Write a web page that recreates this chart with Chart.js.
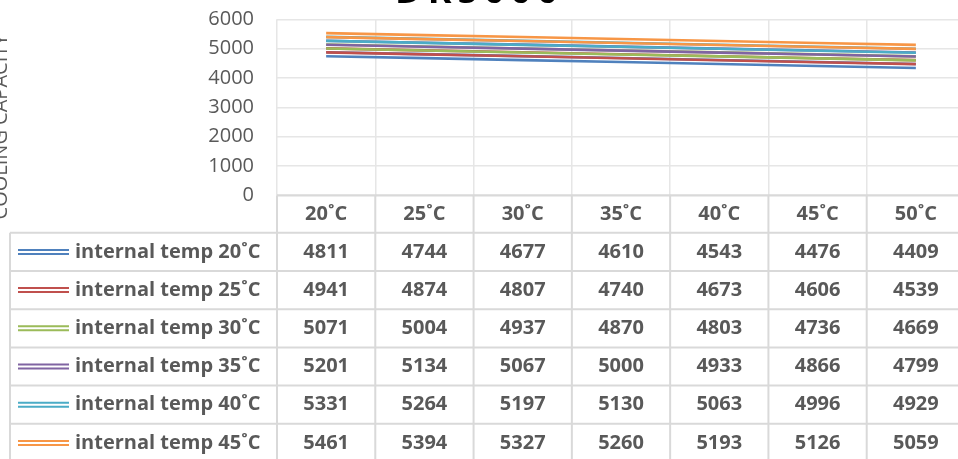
<!DOCTYPE html>
<html>
<head>
<meta charset="utf-8">
<script src="https://cdn.jsdelivr.net/npm/chart.js@4.4.1/dist/chart.umd.min.js"></script>
<style>
  html, body { margin: 0; padding: 0; overflow: hidden; background: #fff; }
  #wrap { position: absolute; left: 0; top: 0; width: 1000px; height: 480px; }
</style>
</head>
<body>
<div id="wrap"><canvas id="cooling"></canvas></div>
<script>
// outside temperature categories (x axis / table header)
const categories = ['20˚C', '25˚C', '30˚C', '35˚C', '40˚C', '45˚C', '50˚C'];
const seriesNames = [
  'internal temp 20˚C', 'internal temp 25˚C', 'internal temp 30˚C',
  'internal temp 35˚C', 'internal temp 40˚C', 'internal temp 45˚C'
];
const internal20 = [4811, 4744, 4677, 4610, 4543, 4476, 4409];
const internal25 = [4941, 4874, 4807, 4740, 4673, 4606, 4539];
const internal30 = [5071, 5004, 4937, 4870, 4803, 4736, 4669];
const internal35 = [5201, 5134, 5067, 5000, 4933, 4866, 4799];
const internal40 = [5331, 5264, 5197, 5130, 5063, 4996, 4929];
const internal45 = [5461, 5394, 5327, 5260, 5193, 5126, 5059];
const yTicks = [0, 1000, 2000, 3000, 4000, 5000, 6000];

const seriesValues = [internal20, internal25, internal30, internal35, internal40, internal45];
const colors = ['#4f81bd', '#c0504d', '#9bbb59', '#8064a2', '#4bacc6', '#f79646'];

const FONT = "'Open Sans', sans-serif";
const TEXT = '#595959';
const HEADER_H = 37.5, ROW_H = 38.2, LABEL_LEFT = 10;

// excel "double" compound line: two thin strokes with a see-through gap
const doubleLine = {
  id: 'doubleLine',
  beforeDatasetDraw(chart) {
    chart.ctx.save();
    chart.ctx.translate(0, -2);
  },
  afterDatasetDraw(chart, args) {
    const ctx = chart.ctx;
    ctx.restore();
    ctx.save();
    ctx.translate(0, 2);
    args.meta.dataset.draw(ctx, chart.chartArea);
    ctx.restore();
  }
};

const extras = {
  id: 'extras',
  afterDraw(chart) {
    const ctx = chart.ctx;
    const xs = chart.scales.x;
    const area = chart.chartArea;
    const half = (xs.getPixelForValue(1) - xs.getPixelForValue(0)) / 2;
    const top = area.bottom;
    const bottomAll = top + HEADER_H + ROW_H * seriesValues.length;
    ctx.save();

    // title, mostly cut off at the top
    ctx.fillStyle = '#000';
    ctx.font = 'bold 36px ' + FONT;
    ctx.letterSpacing = '6px';
    ctx.textAlign = 'left';
    ctx.textBaseline = 'alphabetic';
    ctx.fillText('DR5000', 395, 3);
    ctx.letterSpacing = '0px';

    // y axis title, cut off at the left
    ctx.save();
    ctx.translate(7, 127);
    ctx.rotate(-Math.PI / 2);
    ctx.font = '20px ' + FONT;
    ctx.fillStyle = TEXT;
    ctx.textAlign = 'center';
    ctx.fillText('COOLING CAPACITY', 0, 0);
    ctx.restore();

    // table borders
    ctx.strokeStyle = '#d9d9d9';
    ctx.lineWidth = 2;
    ctx.beginPath();
    ctx.moveTo(area.left, top);
    ctx.lineTo(area.right, top);
    for (let r = 0; r <= seriesValues.length; r++) {
      const y = top + HEADER_H + r * ROW_H;
      ctx.moveTo(LABEL_LEFT, y);
      ctx.lineTo(area.right, y);
    }
    for (let i = 0; i <= categories.length; i++) {
      const px = xs.getPixelForValue(0) - half + i * 2 * half;
      ctx.moveTo(px, top);
      ctx.lineTo(px, bottomAll);
    }
    ctx.moveTo(LABEL_LEFT, top + HEADER_H);
    ctx.lineTo(LABEL_LEFT, bottomAll);
    ctx.stroke();

    // rows
    ctx.font = 'bold 20px ' + FONT;
    ctx.fillStyle = TEXT;
    ctx.textBaseline = 'middle';
    seriesValues.forEach((vals, r) => {
      const cy = top + HEADER_H + r * ROW_H + ROW_H / 2;
      ctx.strokeStyle = colors[r];
      ctx.lineWidth = 2;
      ctx.beginPath();
      ctx.moveTo(18, cy - 2); ctx.lineTo(69, cy - 2);
      ctx.moveTo(18, cy + 2); ctx.lineTo(69, cy + 2);
      ctx.stroke();
      ctx.textAlign = 'left';
      ctx.fillText(seriesNames[r], 75, cy);
      ctx.textAlign = 'center';
      vals.forEach((v, i) => ctx.fillText(String(v), xs.getPixelForValue(i), cy));
    });
    ctx.restore();
  }
};

new Chart(document.getElementById('cooling'), {
  type: 'line',
  data: {
    labels: categories,
    datasets: seriesValues.map((vals, i) => ({
      label: seriesNames[i],
      data: vals,
      borderColor: colors[i],
      borderWidth: 2.6,
      borderCapStyle: 'butt',
      pointRadius: 0,
      tension: 0,
      order: seriesValues.length - 1 - i
    }))
  },
  options: {
    responsive: true,
    maintainAspectRatio: false,
    devicePixelRatio: 1,
    animation: false,
    layout: { padding: { top: 19.3, right: 35, bottom: 247.2, left: 0 } },
    plugins: { legend: { display: false }, tooltip: { enabled: false }, title: { display: false } },
    scales: {
      x: {
        offset: true,
        grid: { offset: true, color: '#e6e6e6', lineWidth: 1.5, drawTicks: false },
        border: { display: false },
        ticks: { font: { family: FONT, size: 20, weight: 'bold' }, color: TEXT, padding: 7 },
        afterFit(scale) { scale.height = HEADER_H; }
      },
      y: {
        min: 0,
        max: 6000,
        afterBuildTicks(scale) { scale.ticks = yTicks.map(v => ({ value: v })); },
        grid: { color: '#e6e6e6', lineWidth: 1.5, drawTicks: false },
        border: { display: false },
        ticks: {
          font: { family: FONT, size: 20 }, color: TEXT, padding: 23,
          autoSkip: false,
          callback: (v) => String(v)
        },
        afterFit(scale) {
          scale.width = 277;
          scale.paddingTop = 0;
          scale.paddingBottom = 0;
        }
      }
    }
  },
  plugins: [doubleLine, extras]
});
</script>
</body>
</html>
